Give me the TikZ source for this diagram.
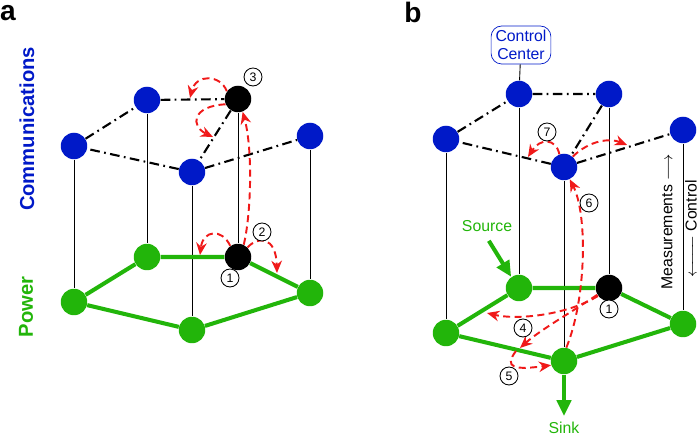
\documentclass[tikz,border=0pt]{standalone}
\usepackage{fontspec}
\setmainfont{Liberation Sans}
\usepackage{amsmath}
\usepackage{amssymb}
\usepackage{tikz}
\usetikzlibrary{arrows.meta}
\definecolor{commblue}{RGB}{0,25,200}
\definecolor{powgreen}{RGB}{34,181,10}
\definecolor{flowred}{RGB}{240,25,25}

\begin{document}
\begin{tikzpicture}[x=0.02cm, y=-0.02cm,
            comm/.style={circle, fill=commblue, minimum size=0.53cm, inner sep=0pt},
            pow/.style={circle, fill=powgreen, minimum size=0.53cm, inner sep=0pt},
            hit/.style={circle, fill=black, minimum size=0.53cm, inner sep=0pt},
            link/.style={line width=1.2pt, dash pattern=on 5.5pt off 2.5pt on 1pt off 2.5pt},
            grid/.style={line width=2.3pt, powgreen},
            pole/.style={line width=0.5pt},
            fail/.style={flowred, line width=1.1pt, dash pattern=on 4pt off 2.5pt, -{Stealth[length=7pt,width=6pt]}},
            num/.style={circle, draw, fill=white, line width=0.5pt, minimum size=0.36cm, inner sep=0pt, font=\fontsize{7}{8}\selectfont},
            feed/.style={powgreen, line width=2.3pt, -{Triangle[length=9pt,width=8pt]}},
            small/.style={font=\fontsize{9}{10}\selectfont}]
            \useasboundingbox (0,0) rectangle (700,435);

            \node[font=\bfseries\fontsize{16}{16}\selectfont] (taga) at (8,13) {a};
            \node[font=\bfseries\fontsize{16}{16}\selectfont] (tagb) at (413,12) {b};
            \node[rotate=90, commblue, font=\bfseries\fontsize{11.5}{12}\selectfont] (commlabel) at (27,129) {Communications};
            \node[rotate=90, powgreen, font=\bfseries\fontsize{11.5}{12}\selectfont] (powlabel) at (26,307) {Power};

            \node[comm] (ca1) at (74,146) {};
            \node[comm] (ca2) at (147,100) {};
            \node[hit] (ca3) at (238,99) {};
            \node[comm] (ca4) at (192,172) {};
            \node[comm] (ca5) at (310,136) {};
            \node[pow] (pa1) at (74,302) {};
            \node[pow] (pa2) at (147,257) {};
            \node[hit] (pa3) at (238,257) {};
            \node[pow] (pa4) at (192,330) {};
            \node[pow] (pa5) at (310,293) {};

            \foreach \i in {1,...,5}
                \draw[pole] (ca\i) -- (pa\i);
            \draw[link] (ca1) -- (ca2) -- (ca3) -- (ca4) -- (ca1) (ca4) -- (ca5);
            \draw[grid] (pa1) -- (pa2) -- (pa3) -- (pa5) -- (pa4) -- (pa1);

            \coordinate (ea1) at (200,255);
            \coordinate (ea2) at (277,273);
            \coordinate (ea3) at (190,98);
            \coordinate (ea4) at (213,137);
            \draw[fail] (pa3.65) .. controls (251,215) and (253,150) .. (ca3.290);
            \draw[fail] (pa3.125) .. controls (222,228) and (203,230) .. (ea1);
            \draw[fail] (pa3.45) .. controls (258,236) and (276,236) .. (ea2);
            \draw[fail] (ca3.145) .. controls (220,74) and (196,74) .. (ea3);
            \draw[fail] (ca3.203) .. controls (192,106) and (190,126) .. (ea4);

            \node[num] (na1) at (230,278) {1};
            \node[num] (na2) at (262,232) {2};
            \node[num] (na3) at (253,77) {3};

            \node[draw=commblue, commblue, rounded corners=6pt, align=center, inner sep=2.5pt, small] (center) at (521,45) {Control\\Center};
            \node[comm] (cb1) at (446,139) {};
            \node[comm] (cb2) at (519,94) {};
            \node[comm] (cb3) at (609,94) {};
            \node[comm] (cb4) at (564,167) {};
            \node[comm] (cb5) at (683,130) {};
            \node[pow] (pb1) at (446,333) {};
            \node[pow] (pb2) at (519,288) {};
            \node[hit] (pb3) at (609,288) {};
            \node[pow] (pb4) at (564,361) {};
            \node[pow] (pb5) at (683,324) {};

            \draw[pole] (center) -- (cb2);
            \foreach \i in {1,...,5}
                \draw[pole] (cb\i) -- (pb\i);
            \draw[link] (cb1) -- (cb2) -- (cb3) -- (cb4) -- (cb1) (cb4) -- (cb5);
            \draw[grid] (pb1) -- (pb2) -- (pb3) -- (pb5) -- (pb4) -- (pb1);

            \node[powgreen, small] (srclabel) at (487,226) {Source};
            \node[powgreen, small] (sinklabel) at (564,428) {Sink};
            \draw[feed, shorten <=2pt] (srclabel.south) -- (pb2.125);
            \draw[feed] (pb4) -- (sinklabel.north);

            \node[rotate=90, small] (meas) at (667,222) {Measurements $\longrightarrow$};
            \node[rotate=90, small, inner sep=1pt] (ctrl) at (691,229) {$\xleftarrow{\hspace{18pt}}$ Control};

            \coordinate (eb1) at (528,157);
            \coordinate (eb2) at (627,145);
            \coordinate (eb3) at (487,313);
            \coordinate (eb4) at (520,348);
            \coordinate (eb5) at (516,351);
            \draw[fail] (cb4.110) .. controls (556,138) and (540,138) .. (eb1);
            \draw[fail] (cb4.50) .. controls (590,140) and (610,138) .. (eb2);
            \draw[fail] (pb4.80) .. controls (586,300) and (588,215) .. (cb4.-65);
            \draw[fail] (pb3.216) .. controls (565,316) and (515,320) .. (eb3);
            \draw[fail] (pb3.210) .. controls (575,310) and (540,330) .. (eb4);
            \draw[fail] (eb5) .. controls (503,368) and (515,370) .. (pb4.198);

            \node[num] (nb1) at (609,309) {1};
            \node[num] (nb4) at (523,328) {4};
            \node[num] (nb5) at (509,376) {5};
            \node[num] (nb6) at (589,203) {6};
            \node[num] (nb7) at (547,132) {7};
        \end{tikzpicture}
\end{document}
